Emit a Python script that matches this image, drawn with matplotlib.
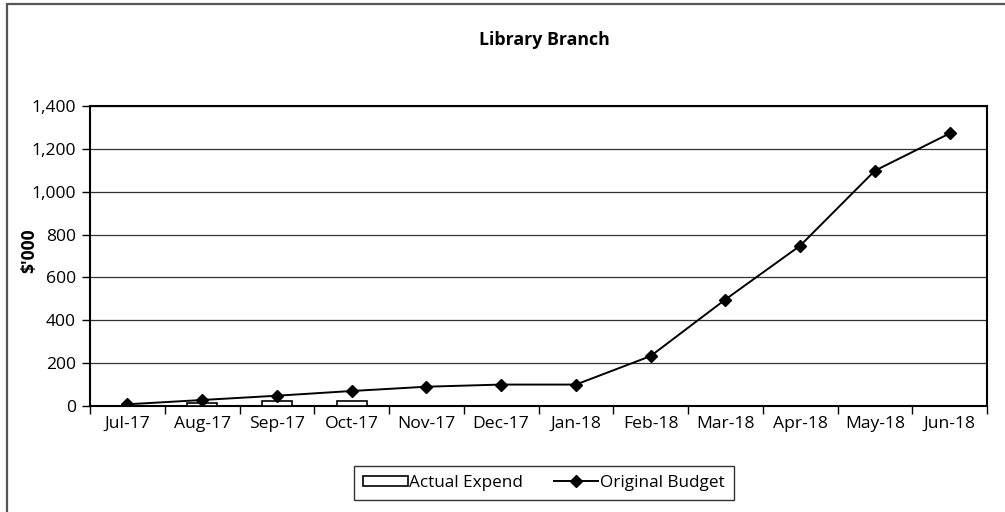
import matplotlib
matplotlib.use("Agg")
import matplotlib.pyplot as plt
from matplotlib.patches import Rectangle
from matplotlib.ticker import FuncFormatter, MultipleLocator
import numpy as np

plt.rcParams['font.family'] = ['Open Sans', 'DejaVu Sans']

months = ["Jul-17", "Aug-17", "Sep-17", "Oct-17", "Nov-17", "Dec-17",
          "Jan-18", "Feb-18", "Mar-18", "Apr-18", "May-18", "Jun-18"]
actual_expend = [2, 16, 24, 24]
original_budget = [8, 28, 48, 70, 90, 100, 100, 233, 497, 748, 1098, 1272]

W, H = 1005, 512
fig = plt.figure(figsize=(W / 100, H / 100), dpi=100)

# outer chart frame
fig.patches.append(Rectangle((7 / W, -0.05), 1.2, 1 - 4 / H + 0.05,
                             transform=fig.transFigure, fill=False,
                             edgecolor="#555555", linewidth=1.6, zorder=0))

ax = fig.add_axes([90 / W, 1 - 406 / H, (987 - 90) / W, (406 - 106) / H])

x = np.arange(len(months))
bars = ax.bar(x[:len(actual_expend)], actual_expend, width=0.4, facecolor="white",
              edgecolor="black", linewidth=1.2, label="Actual Expend", zorder=3)
line, = ax.plot(x, original_budget, color="black", linewidth=1.4, marker="D",
                markersize=6, label="Original Budget", zorder=4)

ax.set_xlim(-0.5, len(months) - 0.5)
ax.set_ylim(0, 1400)
ax.yaxis.set_major_locator(MultipleLocator(200))
ax.yaxis.set_major_formatter(FuncFormatter(lambda v, p: f"{int(v):,}"))
ax.grid(axis="y", color="#333333", linewidth=0.9, zorder=1)
ax.set_axisbelow(True)

ax.set_xticks(x)
ax.set_xticklabels(months)
ax.set_xticks(np.arange(-0.5, len(months)), minor=True)
ax.tick_params(axis="x", which="major", length=0, pad=7, labelsize=12.6)
ax.tick_params(axis="x", which="minor", length=6, width=1, direction="out")
ax.tick_params(axis="y", length=6, width=1, direction="out", labelsize=12.6, pad=4)

for s in ax.spines.values():
    s.set_linewidth(1.5)
    s.set_color("black")

ax.set_ylabel("$'000", fontsize=12.6, fontweight="bold", labelpad=2)
ax.yaxis.set_label_coords(-0.058, 0.517)

fig.text(544 / W, 1 - 40 / H, "Library Branch", ha="center", va="center",
         fontsize=12.8, fontweight="bold")

leg = fig.legend([bars, line], ["Actual Expend", "Original Budget"],
                 loc="center", bbox_to_anchor=(544 / W, 1 - 483 / H), ncol=2,
                 fontsize=12.3, frameon=True, fancybox=False, edgecolor="black",
                 handlelength=2.6, handleheight=0.6, columnspacing=1.8,
                 handletextpad=0.1, borderpad=0.55)
leg.get_frame().set_linewidth(1.0)

fig.savefig("out.png", dpi=100, facecolor="white")
